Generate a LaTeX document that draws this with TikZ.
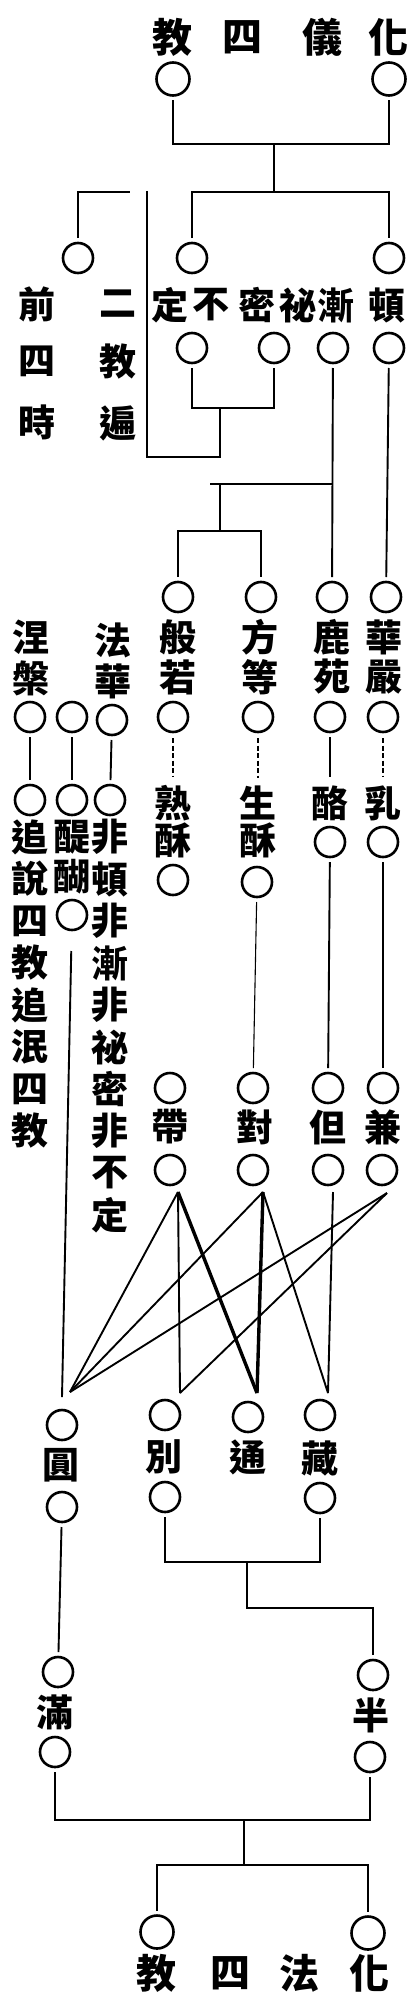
\documentclass[tikz,border=0pt]{standalone}
\usepackage{fontspec}
\newfontfamily\cjk{Noto Sans CJK TC}
\begin{document}
\begin{tikzpicture}[x=1pt,y=-1pt,
  ring/.style={circle,draw,line width=2.6pt,minimum size=30pt,inner sep=0pt,outer sep=0pt},
  bigring/.style={ring,minimum size=33pt},
  ch/.style={inner sep=0pt,font={\cjk\bfseries\fontsize{37}{37}\selectfont}},
  ttl/.style={inner sep=0pt,font={\cjk\bfseries\fontsize{40}{40}\selectfont}},
  ln/.style={line width=1.9pt},
  thinln/.style={line width=1.1pt},
  thk/.style={line width=3.4pt},
  dsh/.style={line width=1.2pt,dash pattern=on 5pt off 2.5pt},
  gap/.style={shorten <=5pt,shorten >=5pt}]
\useasboundingbox[fill=white] (0,0) rectangle (416,2004);

% ---- top title ----
\node[ttl] (tt1) at (172,37) {教};
\node[ttl] (tt2) at (242,37) {四};
\node[ttl] (tt3) at (322,37) {儀};
\node[ttl] (tt4) at (388,37) {化};
\node[bigring] (T1) at (173,79) {};
\node[bigring] (T2) at (389,79) {};
\coordinate (j1) at (274,144);
\coordinate (j2) at (274,192);
\draw[ln,gap] (T1) |- (j1) -| (T2);
\draw[ln] (j1) -- (j2);

% ---- second level ----
\node[ring] (A) at (78,258) {};
\node[ring] (B) at (192,258) {};
\node[ring] (C) at (389,258) {};
\draw[ln,gap] (B) |- (j2) -| (C);
\coordinate (k1) at (130,192);
\draw[ln,shorten <=5pt] (A) |- (k1);

\node[ch] (q1) at (37,304) {前};
\node[ch] (q2) at (37,361) {四};
\node[ch] (q3) at (37,422) {時};
\node[ch] (w1) at (118,304) {二};
\node[ch] (w2) at (118,362) {教};
\node[ch] (w3) at (118,423) {遍};

\node[ch] (d1) at (170,305) {定};
\node[ch] (d2) at (211,305) {不};
\node[ch] (d3) at (257,305) {密};
\node[ch] (d4) at (298,305) {祕};
\node[ch] (d5) at (336,305) {漸};
\node[ch] (d6) at (387,305) {頓};

\node[ring] (D) at (192,348) {};
\node[ring] (E) at (274,348) {};
\node[ring] (F) at (333,348) {};
\node[ring] (G) at (389,348) {};

\coordinate (k2) at (147,191);
\coordinate (k3) at (220,457);
\coordinate (k4) at (220,408);
\draw[ln] (k2) |- (k3) -- (k4);
\draw[ln,gap] (D) |- (k4) -| (E);

% ---- five periods ----
\node[ring] (H) at (178,597) {};
\node[ring] (I) at (261,597) {};
\node[ring] (J) at (332,597) {};
\node[ring] (K) at (386,597) {};
\draw[ln,gap] (F) -- (J);
\draw[ln,gap] (G) -- (K);
\coordinate (k5) at (210,484);
\coordinate (k6) at (332.5,484);
\coordinate (k7) at (220,484);
\coordinate (k8) at (220,531);
\draw[ln] (k5) -- (k6);
\draw[ln] (k7) -- (k8);
\draw[ln,gap] (H) |- (k8) -| (I);

\node[ch] (nie1) at (31,637) {涅};
\node[ch] (nie2) at (31,678) {槃};
\node[ch] (fa1) at (113,640) {法};
\node[ch] (fa2) at (113,681) {華};
\node[ch] (bo1) at (178,637) {般};
\node[ch] (bo2) at (178,677) {若};
\node[ch] (fd1) at (260,637) {方};
\node[ch] (fd2) at (260,677) {等};
\node[ch] (ly1) at (332,637) {鹿};
\node[ch] (ly2) at (332,677) {苑};
\node[ch] (hy1) at (384,637) {華};
\node[ch] (hy2) at (384,677) {嚴};

\node[ring] (L) at (30,717) {};
\node[ring] (M) at (72,717) {};
\node[ring] (N) at (112,720) {};
\node[ring] (O) at (173,717) {};
\node[ring] (P) at (258,717) {};
\node[ring] (Q) at (330,717) {};
\node[ring] (R) at (383,717) {};

\node[ring] (S) at (30,800) {};
\node[ring] (U) at (72,800) {};
\node[ring] (V) at (110,800) {};
\draw[ln,gap] (L) -- (S);
\draw[ln,gap] (M) -- (U);
\draw[ln,gap] (N) -- (V);

% five flavours
\node[ch] (sh1) at (173,803) {熟};
\node[ch] (sh2) at (173,840) {酥};
\node[ch] (sg1) at (258,803) {生};
\node[ch] (sg2) at (258,840) {酥};
\node[ch] (lao) at (330,803) {酪};
\node[ch] (ru) at (383,803) {乳};
\draw[dsh,shorten <=6pt,shorten >=8pt] (O) -- (sh1);
\draw[dsh,shorten <=6pt,shorten >=8pt] (P) -- (sg1);
\draw[ln,shorten <=5pt,shorten >=8pt] (Q) -- (lao);
\draw[dsh,shorten <=6pt,shorten >=8pt] (R) -- (ru);

\node[ring] (Lao2) at (330,842) {};
\node[ring] (Ru2) at (383,842) {};
\node[ring] (Sh3) at (173,880) {};
\node[ring] (Sg3) at (257,882) {};

% left stacks
\foreach \c [count=\i from 0] in {追,說,四,教,追,泯,四,教}
  \node[ch] (zs\i) at (30,{837+42*\i}) {\c};
\node[ch] (ti1) at (72,837) {醍};
\node[ch] (ti2) at (72,877) {醐};
\node[ring] (Ti3) at (72,915) {};
\foreach \c [count=\i from 0] in {非,頓,非,漸,非,祕,密,非,不,定}
  \node[ch] (fe\i) at (110,{837+42*\i}) {\c};

% ---- four modes ----
\node[ring] (Dai1) at (170,1088) {};
\node[ring] (Dui1) at (253,1088) {};
\node[ring] (Dan1) at (328,1088) {};
\node[ring] (Jian1) at (383,1088) {};
\node[ch] (dai) at (170,1127) {帶};
\node[ch] (dui) at (255,1127) {對};
\node[ch] (dan) at (328,1127) {但};
\node[ch] (jian) at (383,1127) {兼};
\node[ring] (Dai2) at (170,1170) {};
\node[ring] (Dui2) at (253,1170) {};
\node[ring] (Dan2) at (328,1170) {};
\node[ring] (Jian2) at (382,1170) {};

\draw[thinln,gap] (Sg3) -- (Dui1);
\draw[ln,gap] (Lao2) -- (Dan1);
\draw[ln,gap] (Ru2) -- (Jian1);

% apexes and targets
\coordinate (aDai) at (178,1192);
\coordinate (aDui) at (263,1192);
\coordinate (aDan) at (333,1192);
\coordinate (aJian) at (387,1193);
\coordinate (pYuan) at (70,1392);
\coordinate (pBie) at (180,1393);
\coordinate (pTong) at (257,1393);
\coordinate (pZang) at (328,1393);
\coordinate (pTi) at (62,1397);

\draw[ln,shorten <=21pt] (Ti3) -- (pTi);
\draw[ln] (aDai) -- (pYuan);
\draw[ln] (aDai) -- (pBie);
\draw[thk] (aDai) -- (pTong);
\draw[ln] (aDui) -- (pYuan);
\draw[thk] (aDui) -- (pTong);
\draw[ln] (aDui) -- (pZang);
\draw[ln] (aDan) -- (pZang);
\draw[ln] (aJian) -- (pYuan);
\draw[ln] (aJian) -- (pBie);

% ---- four teachings ----
\node[ring] (Yuan1) at (62,1425) {};
\node[ch] (yuan) at (61,1465) {圓};
\node[ring] (Yuan2) at (62,1507) {};
\node[ring] (Bie1) at (165,1415) {};
\node[ch] (bie) at (164,1457) {別};
\node[ring] (Bie2) at (165,1497) {};
\node[ring] (Tong1) at (248,1417) {};
\node[ch] (tong) at (248,1457) {通};
\node[ring] (Zang1) at (320,1415) {};
\node[ch] (zang) at (320,1458) {藏};
\node[ring] (Zang2) at (320,1498) {};

\coordinate (m1) at (247,1562);
\coordinate (m2) at (247,1608);
\draw[ln,gap] (Bie2) |- (m1) -| (Zang2);

\node[ring] (Man1) at (58,1672) {};
\node[ch] (man) at (55,1712) {滿};
\node[ring] (Man2) at (55,1752) {};
\node[ring] (Ban1) at (373,1675) {};
\node[ch] (ban) at (371,1715) {半};
\node[ring] (Ban2) at (370,1757) {};

\draw[ln,shorten >=5pt] (m1) -- (m2) -| (Ban1);
\draw[ln,gap] (Yuan2) -- (Man1);

\coordinate (m3) at (244,1820);
\coordinate (m4) at (244,1865);
\draw[ln,gap] (Man2) |- (m3) -| (Ban2);
\draw[ln] (m3) -- (m4);

\node[bigring] (B1) at (157,1932) {};
\node[bigring] (B2) at (368,1933) {};
\draw[ln,gap] (B1) |- (m4) -| (B2);

\node[ttl] (bt1) at (156,1973) {教};
\node[ttl] (bt2) at (230,1973) {四};
\node[ttl] (bt3) at (299,1973) {法};
\node[ttl] (bt4) at (369,1973) {化};
\end{tikzpicture}
\end{document}
